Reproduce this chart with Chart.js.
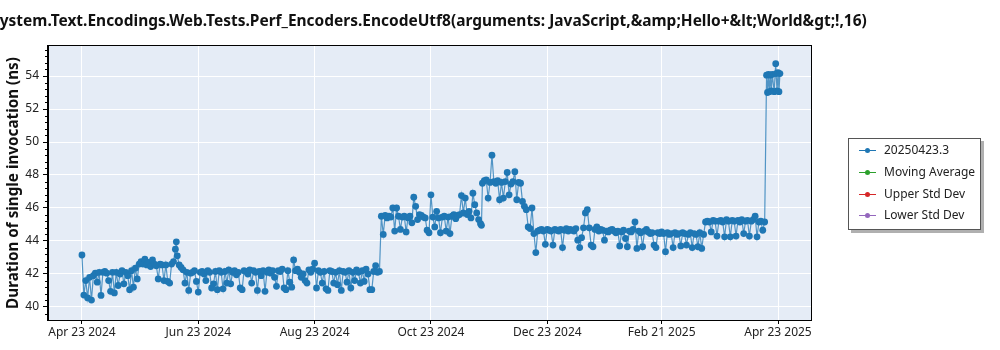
<!DOCTYPE html>
<html>
<head>
<meta charset="utf-8">
<script src="https://cdn.jsdelivr.net/npm/chart.js@4.4.0/dist/chart.umd.min.js"></script>
<style>
  html, body { margin: 0; padding: 0; background: #fff; }
  #wrap { position: relative; width: 1000px; height: 350px; }
  #legend {
    position: absolute; left: 848px; top: 138px; width: 131px; height: 90px;
    border: 1px solid #555; background: #fff; box-shadow: 3px 3px 0 #b0b0b0;
    font-family: "Noto Sans", sans-serif; font-size: 12px; color: #222;
  }
  .item { position: absolute; left: 0; height: 20px; width: 130px; }
  .item .line { position: absolute; left: 10px; top: 10px; width: 17px; height: 1px; }
  .item .dot { position: absolute; left: 16px; top: 8px; width: 5px; height: 5px; border-radius: 50%; }
  .item .txt { position: absolute; left: 35px; top: 1px; white-space: nowrap; }
</style>
</head>
<body>
<div id="wrap">
  <canvas id="perfChart" width="1000" height="350"></canvas>
  <div id="legend"></div>
</div>
<script>
const titleText = 'System.Text.Encodings.Web.Tests.Perf_Encoders.EncodeUtf8(arguments: JavaScript,&amp;Hello+&lt;World&gt;!,16)';
const yTitle = 'Duration of single invocation (ns)';

// days since Apr 23 2024
const tickDays = [0, 61, 122, 183, 244, 304, 365];
const tickLabels = ['Apr 23 2024', 'Jun 23 2024', 'Aug 23 2024', 'Oct 23 2024', 'Dec 23 2024', 'Feb 21 2025', 'Apr 23 2025'];
const yTicks = [40, 42, 44, 46, 48, 50, 52, 54];

const seriesNames = ['20250423.3', 'Moving Average', 'Upper Std Dev', 'Lower Std Dev'];
const seriesColors = ['#1f77b4', '#2ca02c', '#d62728', '#9467bd'];

const runDays = [
  0,1,2,3,4,5,6,7,8,9,10,11,12,13,14,15,16,17,18,19,20,21,22,23,24,
  25,26,27,28,29,30,31,32,33,34,35,36,37,38,39,40,41,42,43,44,45,46,47,48,49,49.5,
  50,51,52,53,54,55,56,57,58,59,60,61,62,63,64,65,66,67,68,69,70,71,72,73,74,
  75,76,77,78,79,80,81,82,83,84,85,86,87,88,89,90,91,92,93,94,95,96,97,98,99,
  100,101,102,103,104,105,106,107,108,109,110,111,112,113,114,115,116,117,118,119,120,121,122,123,124,
  125,126,127,128,129,130,131,132,133,134,135,136,137,138,139,140,141,142,143,144,145,146,147,148,149,
  150,151,152,153,154,155,156,157,158,159,160,161,162,163,164,165,166,167,168,169,170,171,172,173,174,
  175,176,177,178,179,180,181,182,183,184,185,186,187,188,189,190,191,192,193,194,195,196,197,198,199,
  200,201,202,203,204,205,206,207,208,209,209.5,210,211,212,213,214,215,216,217,218,219,220,221,222,223,224,
  225,226,227,228,229,230,231,232,233,234,235,236,237,238,239,240,241,242,243,244,245,246,247,248,249,
  250,251,252,253,254,255,256,257,258,259,260,261,262,263,264,265,266,267,268,269,270,271,272,273,274,
  275,276,277,278,279,280,281,282,283,284,285,286,287,288,289,290,291,292,293,294,295,296,297,298,299,
  300,301,302,303,304,305,306,307,308,309,310,311,312,313,314,315,316,317,318,319,320,321,322,323,324,
  325,326,327,328,329,330,331,332,333,334,335,336,337,338,339,340,341,342,343,344,345,346,347,348,349,
  350,351,352,353,354,355,356,357,358,359,359.5,360,360.5,361,361.5,362,363,363.8,364,364.5,365,365.5,366
];
const durationNs = [
  43.15,40.72,41.6,40.55,41.8,40.42,41.9,42.05,41.5,42.1,40.70,42.1,42.15,42.05,41.6,40.95,42.1,40.85,42.1,41.3,42.0,42.2,41.4,42.1,41.9,
  41.05,42.2,41.2,42.35,41.7,42.6,42.75,42.6,42.9,42.55,42.7,42.45,42.85,42.6,42.5,41.7,42.6,42.55,41.6,42.55,41.55,41.45,42.6,42.75,43.5,43.95,
  43.1,42.55,42.4,42.25,41.45,42.1,41.0,42.05,42.1,42.2,41.55,40.9,42.1,42.15,42.0,41.6,42.2,42.1,41.15,41.4,42.15,41.05,42.2,42.1,41.1,
  42.15,41.45,42.25,41.4,42.1,42.2,41.95,42.1,41.15,41.05,42.2,42.15,42.0,42.25,41.45,42.2,42.1,41.0,42.15,41.9,42.2,40.95,42.1,42.25,42.05,
  42.2,41.8,41.25,42.2,42.15,42.3,41.15,41.05,42.2,41.5,41.2,42.85,42.2,42.3,42.1,41.8,42.0,41.6,41.45,42.25,42.1,42.3,42.65,41.15,42.2,
  42.1,41.45,42.15,41.1,41.0,42.2,42.15,41.45,42.1,41.35,42.2,41.0,42.15,42.1,41.5,42.2,41.15,42.1,41.6,42.25,42.1,41.45,42.2,41.55,42.3,
  42.0,41.05,41.05,42.15,42.5,42.1,42.15,45.5,44.4,45.55,45.4,45.5,45.45,46.0,44.6,46.0,45.5,44.7,45.45,45.5,44.55,45.4,45.5,45.1,46.65,
  46.1,45.3,45.6,45.55,45.45,45.4,44.65,44.5,46.8,45.45,44.85,45.8,45.4,44.5,45.45,45.5,44.6,45.45,44.45,45.5,45.6,45.35,45.55,45.6,46.75,
  45.7,46.6,45.6,45.8,45.4,46.9,46.2,45.7,45.3,45.05,44.95,47.5,47.65,47.7,46.6,47.55,49.2,47.6,47.5,47.65,46.5,47.55,46.6,47.6,48.15,46.8,
  47.45,47.6,48.2,46.5,47.55,47.5,46.4,46.1,45.9,44.85,44.75,46.0,44.45,43.3,44.6,44.65,44.7,44.6,43.8,44.7,44.65,44.6,43.75,44.7,44.65,
  44.6,44.7,43.6,44.65,44.75,44.6,44.7,44.65,44.6,44.75,44.05,43.6,44.2,44.8,45.7,45.9,44.8,43.75,43.65,44.7,44.85,44.6,44.7,44.65,44.05,
  44.6,44.55,44.65,44.7,44.6,44.5,44.6,43.7,44.55,44.65,44.15,43.65,44.6,44.55,44.7,45.15,43.55,44.6,44.5,43.65,44.6,44.7,44.55,44.45,44.5,
  43.75,43.6,44.5,44.45,44.55,44.45,43.35,44.5,44.4,44.45,43.6,44.5,44.4,44.45,43.7,44.5,44.45,43.75,44.4,44.5,43.6,44.45,44.4,43.65,44.5,
  43.55,44.4,45.15,45.2,45.15,44.55,45.25,45.2,44.3,45.2,45.25,45.15,44.25,45.3,45.2,44.25,45.25,45.2,44.3,45.25,45.15,45.3,44.45,45.2,45.25,
  44.3,45.2,45.3,45.5,44.25,45.15,45.2,44.65,45.15,54.05,53.0,54.1,53.05,54.05,53.1,54.1,53.05,54.75,54.15,53.1,54.2,53.05,54.15
];

const fontFamily = '"Noto Sans", "DejaVu Sans", sans-serif';

const plotBackground = {
    id: 'plotBackground',
    beforeDraw(chart) {
        const a = chart.chartArea, c = chart.ctx;
        c.save();
        c.fillStyle = '#e5ecf6';
        c.fillRect(a.left, a.top, a.right - a.left, a.bottom - a.top);
        c.restore();
    }
};

const plotFrame = {
    id: 'plotFrame',
    afterDraw(chart) {
        const a = chart.chartArea, c = chart.ctx;
        const ys = chart.scales.y;
        c.save();
        c.strokeStyle = '#000';
        c.lineWidth = 1;
        c.strokeRect(Math.round(a.left) - 0.5, Math.round(a.top) - 0.5, Math.round(a.right - a.left) + 1, Math.round(a.bottom - a.top) + 1);

        // minor ticks on the y axis
        c.beginPath();
        for (let k = Math.ceil(ys.min / 0.4); k * 0.4 <= ys.max; k++) {
            if (k % 5 === 0) continue;
            const py = Math.round(ys.getPixelForValue(k * 0.4)) + 0.5;
            c.moveTo(a.left - 3, py);
            c.lineTo(a.left, py);
        }
        c.stroke();

        // title, centred over the plot
        c.fillStyle = '#111';
        c.font = 'bold 16px ' + fontFamily;
        let size = 16 * 876 / c.measureText(titleText).width;
        c.font = 'bold ' + size.toFixed(2) + 'px ' + fontFamily;
        c.textAlign = 'center';
        c.textBaseline = 'alphabetic';
        c.fillText(titleText, (a.left + a.right) / 2 - 0.5, 26);

        // y axis title
        c.font = 'bold 16px ' + fontFamily;
        size = 16 * 252 / c.measureText(yTitle).width;
        c.font = 'bold ' + size.toFixed(2) + 'px ' + fontFamily;
        c.translate(14, 183);
        c.rotate(-Math.PI / 2);
        c.textBaseline = 'middle';
        c.fillText(yTitle, 0, 0);
        c.restore();
    }
};

const ctx = document.getElementById('perfChart').getContext('2d');
const perfChart = new Chart(ctx, {
    type: 'line',
    data: {
        datasets: [{
            label: seriesNames[0],
            data: runDays.map((d, i) => ({ x: d, y: durationNs[i] })),
            borderColor: 'rgba(31,119,180,0.75)',
            borderWidth: 1.2,
            pointRadius: 3.4,
            pointBackgroundColor: seriesColors[0],
            pointBorderColor: seriesColors[0],
            pointBorderWidth: 0,
            tension: 0
        },
        { label: seriesNames[1], data: [], borderColor: seriesColors[1] },
        { label: seriesNames[2], data: [], borderColor: seriesColors[2] },
        { label: seriesNames[3], data: [], borderColor: seriesColors[3] }]
    },
    options: {
        responsive: false,
        animation: false,
        devicePixelRatio: 1,
        layout: { padding: { top: 46, right: 189, left: 0, bottom: 0 } },
        plugins: {
            legend: { display: false },
            tooltip: { enabled: false }
        },
        scales: {
            x: {
                type: 'linear',
                min: -17.8,
                max: 382.3,
                afterBuildTicks: s => { s.ticks = tickDays.map(v => ({ value: v })); },
                afterFit: s => { s.height = 30; },
                ticks: {
                    autoSkip: false,
                    maxRotation: 0,
                    padding: 1,
                    color: '#222',
                    font: { family: fontFamily, size: 12 },
                    callback: (v, i) => tickLabels[i]
                },
                grid: { color: '#fff', lineWidth: 1, tickLength: 4, tickColor: '#000' },
                border: { display: true, color: '#000', width: 1 }
            },
            y: {
                min: 39.21,
                max: 55.82,
                afterBuildTicks: s => { s.ticks = yTicks.map(v => ({ value: v })); },
                afterFit: s => { s.width = 48; },
                ticks: {
                    padding: 4,
                    color: '#222',
                    font: { family: fontFamily, size: 12 }
                },
                grid: { color: '#fff', lineWidth: 1, tickLength: 5, tickColor: '#000' },
                border: { display: true, color: '#000', width: 1 }
            }
        }
    },
    plugins: [plotBackground, plotFrame]
});

// legend box
const legendBox = document.getElementById('legend');
const rowTops = [1, 23, 45, 66];
seriesNames.forEach((name, i) => {
    const item = document.createElement('div');
    item.className = 'item';
    item.style.top = rowTops[i] + 'px';
    item.innerHTML = '<div class="line" style="background:' + seriesColors[i] + '"></div>' +
        '<div class="dot" style="background:' + seriesColors[i] + '"></div>' +
        '<div class="txt">' + name + '</div>';
    legendBox.appendChild(item);
});
</script>
</body>
</html>
